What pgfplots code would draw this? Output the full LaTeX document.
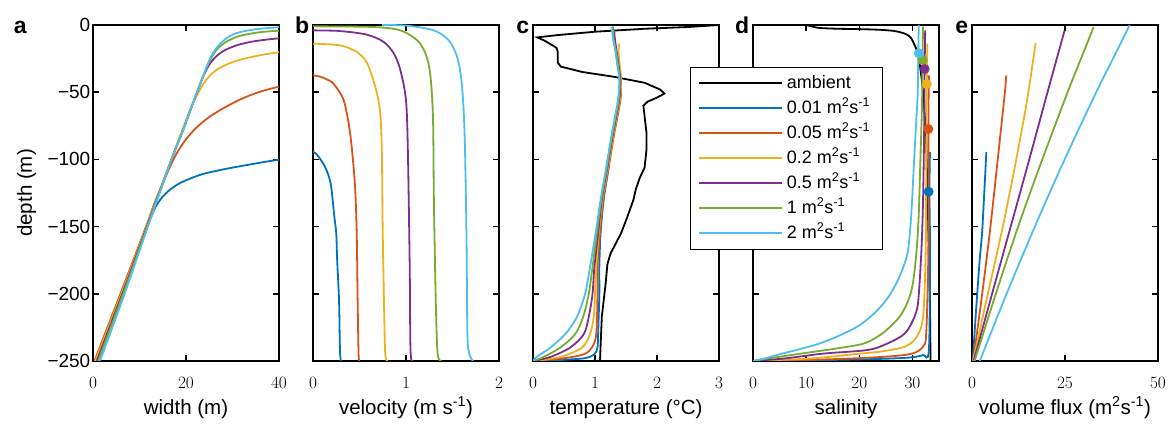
\documentclass[border=0pt]{standalone}
\usepackage{fontspec}
\setmainfont{Liberation Sans}
\usepackage{pgfplots}
\pgfplotsset{compat=1.18}
\definecolor{mblue}{rgb}{0,0.447,0.741}
\definecolor{mred}{rgb}{0.85,0.325,0.098}
\definecolor{myellow}{rgb}{0.929,0.694,0.125}
\definecolor{mpurple}{rgb}{0.494,0.184,0.556}
\definecolor{mgreen}{rgb}{0.466,0.674,0.188}
\definecolor{mcyan}{rgb}{0.301,0.745,0.933}
\pgfplotsset{
 panel/.style={
  scale only axis, width=186pt, height=336pt,
  anchor=south west, clip mode=individual,
  ymin=-250, ymax=0, ytick={-250,-200,-150,-100,-50,0},
  tick align=inside, tick pos=both,
  major tick length=6pt,
  axis line style={line width=1.5pt},
  every tick/.style={black, line width=1.5pt},
  tick label style={font=\fontsize{19}{22}\selectfont},
  label style={font=\fontsize{20.5}{24}\selectfont},
  xticklabel style={anchor=base, yshift=-28pt},
  yticklabel style={inner xsep=2.5pt},
  xlabel style={at={(axis description cs:0.5,-0.158)}, anchor=base},
  ylabel style={at={(axis description cs:-0.328,0.5)}, anchor=base},
  every axis plot/.append style={line width=1.8pt},
 },
}
\tikzset{letter/.style={anchor=base east, inner sep=0pt, font=\fontsize{23}{23}\selectfont\bfseries}}
\begin{document}
\begin{tikzpicture}
\useasboundingbox (0,0) rectangle (1168pt,425pt);
% ---------------- a
\begin{axis}[panel, at={(93pt,64pt)}, xmin=0, xmax=40, xtick={0,20,40},
 yticklabels={−250,−200,−150,−100,−50,0},
 xlabel={width (m)}, ylabel={depth (m)}]
\addplot[mblue, smooth] coordinates {(0.6,-250)(6.1,-200)(11.6,-150)(12.6,-142)(13.6,-134.5)(14.8,-128.5)(16.3,-123.3)(18,-119)(20.1,-115.4)(23.7,-110.8)(28.8,-106.9)(33.1,-104.2)(36.7,-102)(40,-100.2)};
\addplot[mred, smooth] coordinates {(0.3,-250)(5.9,-200)(11.4,-150)(13.5,-130)(15,-118)(16.5,-106)(18,-95.5)(20,-85)(22.5,-75.5)(25,-68.5)(28,-62)(31,-56.5)(34,-52)(37,-48.5)(40,-45.9)};
\addplot[myellow, smooth] coordinates {(0.5,-250)(6.1,-200)(11.5,-150)(16.8,-100)(19,-80)(21,-62)(22.5,-51.5)(23.8,-43.5)(25.3,-37)(27,-32.5)(29,-29)(31.5,-26)(34.5,-23.5)(37,-21.8)(40,-20.3)};
\addplot[mpurple, smooth] coordinates {(0.8,-250)(6.3,-200)(11.6,-150)(16.9,-100)(19.4,-78)(21.3,-60)(22.6,-48)(23.8,-37.5)(25.1,-29)(26.6,-23)(28.5,-18.5)(31,-15)(34,-12.5)(37,-11)(40,-9.9)};
\addplot[mgreen, smooth] coordinates {(1.1,-250)(6.5,-200)(11.7,-150)(16.9,-100)(19.4,-78)(21.3,-60)(22.6,-48)(23.9,-36)(25.2,-26)(26.7,-18)(28.7,-12.4)(30.8,-9)(33,-7)(36,-5.3)(40,-4.2)};
\addplot[mcyan, smooth] coordinates {(1.5,-250)(6.8,-200)(11.8,-150)(16.9,-100)(19.4,-78)(21.3,-60)(22.6,-48)(24,-35)(25.3,-24)(26.8,-16)(28.7,-9.9)(30.5,-6.5)(32.5,-4.6)(35,-3.2)(37.5,-2.3)(40,-1.7)};
\node[letter] at (axis description cs:-0.355,0.976) {a};
\end{axis}
% ---------------- b
\begin{axis}[panel, at={(313pt,64pt)}, xmin=0, xmax=2, xtick={0,1,2},
 yticklabels={}, xlabel={velocity (m s\textsuperscript{-1})}]
\addplot[mblue, smooth] coordinates {(0,-94.5)(0.03,-95.5)(0.06,-98)(0.13,-105.7)(0.19,-118)(0.23,-143)(0.25,-155)(0.26,-175)(0.28,-205)(0.29,-242)(0.30,-250)};
\addplot[mred, smooth] coordinates {(0,-37.5)(0.08,-38.5)(0.15,-40.5)(0.22,-43.7)(0.33,-56)(0.40,-81)(0.45,-118)(0.47,-155)(0.48,-205)(0.49,-245)(0.50,-250)};
\addplot[myellow, smooth] coordinates {(0,-13.9)(0.12,-14.2)(0.29,-15.1)(0.38,-17)(0.47,-20)(0.55,-25)(0.60,-31.2)(0.67,-46.1)(0.72,-63.5)(0.74,-93.3)(0.75,-155)(0.77,-229.6)(0.78,-247)(0.80,-250)};
\addplot[mpurple, smooth] coordinates {(0,-4)(0.29,-4.5)(0.58,-7.2)(0.76,-12.6)(0.87,-21.3)(0.94,-33.7)(1.0,-56)(1.02,-93.3)(1.04,-180)(1.05,-244.5)(1.09,-250)};
\addplot[mgreen, smooth] coordinates {(0,-1)(0.65,-1.5)(0.94,-4)(1.12,-11.4)(1.21,-21.3)(1.26,-36.2)(1.29,-68.5)(1.30,-130.5)(1.32,-205)(1.34,-244.5)(1.38,-250)};
\addplot[mcyan, smooth] coordinates {(0.74,0)(1.01,-0.5)(1.30,-4)(1.46,-11.4)(1.55,-23.8)(1.60,-43.7)(1.63,-81)(1.65,-155)(1.66,-229.6)(1.68,-244.5)(1.72,-250)};
\node[letter] at (axis description cs:-0.02,0.976) {b};
\end{axis}
% ---------------- c
\begin{axis}[panel, at={(533pt,64pt)}, xmin=0, xmax=3, xtick={0,1,2,3},
 yticklabels={}, xlabel={temperature (°C)}]
\addplot[black] coordinates {(3,0)(2.5,-1.5)(1.8,-2.8)(1.0,-5)(0.4,-7.5)(0.07,-9.2)(0.2,-12)(0.38,-17)(0.4,-20)(0.4,-28)(0.45,-31)(0.8,-35)(1.3,-38.5)(1.8,-43)(2.05,-48)(2.12,-51)(2.0,-54)(1.85,-57)(1.78,-60)(1.8,-68)(1.83,-80)(1.83,-93)(1.80,-106)(1.72,-114)(1.66,-122)(1.62,-130)(1.52,-143)(1.42,-155)(1.33,-163)(1.25,-170)(1.20,-178)(1.17,-193)(1.11,-217)(1.08,-250)};
\addplot[mblue, smooth] coordinates {(1.24,-94.5)(1.22,-106)(1.14,-130)(1.09,-155)(1.07,-180)(1.07,-200)(1.05,-230)(1.04,-240)(0.99,-245)(0.82,-248)(0.33,-249.5)(0,-250)};
\addplot[mred, smooth] coordinates {(1.41,-37.5)(1.42,-45)(1.41,-56)(1.31,-81)(1.22,-106)(1.13,-130)(1.08,-155)(1.04,-180)(1.04,-200)(1.02,-230)(0.95,-240)(0.82,-245)(0.49,-248)(0,-250)};
\addplot[myellow, smooth] coordinates {(1.39,-13.9)(1.38,-20)(1.40,-30)(1.42,-41)(1.40,-56)(1.30,-81)(1.21,-106)(1.12,-130)(1.06,-155)(1.02,-180)(1.00,-200)(0.98,-217)(0.92,-230)(0.79,-240)(0.44,-247)(0,-250)};
\addplot[mpurple, smooth] coordinates {(1.31,-4)(1.32,-10)(1.35,-20)(1.38,-30)(1.41,-41)(1.39,-56)(1.29,-81)(1.20,-106)(1.11,-130)(1.05,-155)(0.99,-180)(0.96,-200)(0.90,-217)(0.82,-230)(0.60,-240)(0.28,-247)(0,-250)};
\addplot[mgreen, smooth] coordinates {(1.29,-1)(1.30,-10)(1.34,-20)(1.37,-30)(1.40,-41)(1.38,-56)(1.28,-81)(1.19,-106)(1.10,-130)(1.03,-155)(0.96,-180)(0.90,-200)(0.81,-217)(0.68,-230)(0.44,-240)(0.17,-247)(0,-250)};
\addplot[mcyan, smooth] coordinates {(1.27,-1.5)(1.29,-10)(1.33,-20)(1.36,-30)(1.39,-41)(1.37,-56)(1.27,-81)(1.18,-106)(1.09,-130)(1.01,-155)(0.92,-180)(0.84,-200)(0.71,-217)(0.52,-230)(0.28,-240)(0.06,-247)(0,-250)};
\node[letter] at (axis description cs:-0.02,0.976) {c};
\end{axis}
% ---------------- d
\begin{axis}[panel, at={(753pt,64pt)}, xmin=0, xmax=35, xtick={0,10,20,30},
 yticklabels={}, xlabel={salinity},
 legend cell align=left,
 legend image code/.code={\path (0pt,0pt) -- (83pt,0pt); \draw[#1, line width=1.8pt] (6pt,0pt) -- (81pt,0pt);},
 legend style={at={(axis description cs:-0.339,0.875)}, anchor=north west,
   draw=black, fill=white,
   font=\fontsize{18}{20}\selectfont,
   inner xsep=8pt, inner ysep=6.5pt, row sep=6pt,
   nodes={inner xsep=4pt, inner ysep=1.5pt, text height=13pt, text depth=3pt}}]
\addplot[black, smooth] coordinates {(10,0)(11,-1)(12.5,-2.2)(16,-2.8)(20.4,-3.1)(24,-3.6)(26.5,-4.4)(27.9,-5.6)(29,-7.2)(29.8,-10)(30.4,-14.9)(30.9,-19.8)(31.4,-30)(32,-50)(32.5,-80)(32.8,-120)(33.1,-170)(33.3,-210)(33.4,-250)};
\addlegendentry{ambient}
\addplot[mblue, smooth] coordinates {(33.3,-94.5)(33.2,-124)(33.3,-167)(33.1,-241.8)(32.0,-245.5)(29.8,-247.3)(25,-248.3)(15,-249.2)(0,-250)};
\addlegendentry{0.01 m\textsuperscript{2}s\textsuperscript{-1}}
\addplot[mred, smooth] coordinates {(33.1,-37.5)(33.0,-77)(33.0,-167)(32.6,-229)(32.0,-239.3)(30.1,-244.3)(26,-246.5)(17.5,-248.3)(8,-249.4)(0,-250)};
\addlegendentry{0.05 m\textsuperscript{2}s\textsuperscript{-1}}
\addplot[myellow, smooth] coordinates {(32.8,-13.9)(32.7,-44)(32.6,-100)(32.5,-167)(32.0,-217)(30.8,-232)(28.6,-239.3)(24,-243)(19.4,-244.8)(11.3,-248)(0,-250)};
\addlegendentry{0.2 m\textsuperscript{2}s\textsuperscript{-1}}
\addplot[mpurple, smooth] coordinates {(32.4,-4)(32.3,-33)(32.2,-80)(32.0,-130)(31.7,-167)(31.1,-205)(30.4,-217)(28.6,-229.4)(25.4,-236.8)(21.6,-241.8)(13.2,-244.5)(6.2,-248)(0,-250)};
\addlegendentry{0.5 m\textsuperscript{2}s\textsuperscript{-1}}
\addplot[mgreen, smooth] coordinates {(32.0,-1)(31.9,-26)(31.8,-60)(31.5,-100)(31.2,-140)(30.8,-167)(30.1,-192)(29.2,-205)(27.6,-217)(24.5,-229)(21,-236.8)(16,-240.5)(9.4,-244.3)(3,-248)(0,-250)};
\addlegendentry{1 m\textsuperscript{2}s\textsuperscript{-1}}
\addplot[mcyan, smooth] coordinates {(31.2,0)(31.1,-20)(31.0,-50)(30.6,-80)(30.2,-110)(29.8,-140)(29.2,-167)(28.3,-180)(27,-192)(25.2,-204)(22.7,-215)(19.8,-224)(16.3,-231)(12.5,-237)(8.5,-241.5)(5,-245)(2.3,-248)(0,-250)};
\addlegendentry{2 m\textsuperscript{2}s\textsuperscript{-1}}
\addplot[forget plot, only marks, mark=*, mark size=4pt, mblue] coordinates {(33.05,-124)};
\addplot[forget plot, only marks, mark=*, mark size=4pt, mred] coordinates {(33.0,-77.4)};
\addplot[forget plot, only marks, mark=*, mark size=4pt, myellow] coordinates {(32.7,-44)};
\addplot[forget plot, only marks, mark=*, mark size=4pt, mpurple] coordinates {(32.3,-32.7)};
\addplot[forget plot, only marks, mark=*, mark size=4pt, mgreen] coordinates {(31.9,-26)};
\addplot[forget plot, only marks, mark=*, mark size=4pt, mcyan] coordinates {(31.2,-21)};
\node[letter] at (axis description cs:-0.02,0.976) {d};
\end{axis}
% ---------------- e
\begin{axis}[panel, at={(972pt,64pt)}, xmin=0, xmax=50, xtick={0,25,50},
 yticklabels={}, xlabel={volume flux (m\textsuperscript{2}s\textsuperscript{-1})}]
\addplot[mblue, smooth] coordinates {(0.2,-250)(1.1,-212)(2.06,-175)(2.7,-155)(3.2,-130)(3.85,-94.5)};
\addplot[mred, smooth] coordinates {(0.3,-250)(2.5,-205)(4.75,-155)(6.7,-105.7)(8.8,-51)(9.2,-37.5)};
\addplot[myellow, smooth] coordinates {(0.3,-250)(3.85,-205)(7.9,-155)(11.5,-105.7)(14.8,-56)(17.1,-13.4)};
\addplot[mpurple, smooth] coordinates {(0.45,-250)(5.4,-200)(10.4,-150)(15.4,-100)(20.3,-50)(24.9,-4)};
\addplot[mgreen, smooth] coordinates {(0.7,-250)(6.4,-200)(12.4,-150)(18.9,-100)(25.7,-50)(29.3,-25)(32.7,-1.5)};
\addplot[mcyan, smooth] coordinates {(2.1,-250)(9.3,-200)(16.9,-150)(24.9,-100)(33.4,-50)(37.9,-25)(42.4,0)};
\node[letter] at (axis description cs:-0.02,0.976) {e};
\end{axis}
\end{tikzpicture}
\end{document}
